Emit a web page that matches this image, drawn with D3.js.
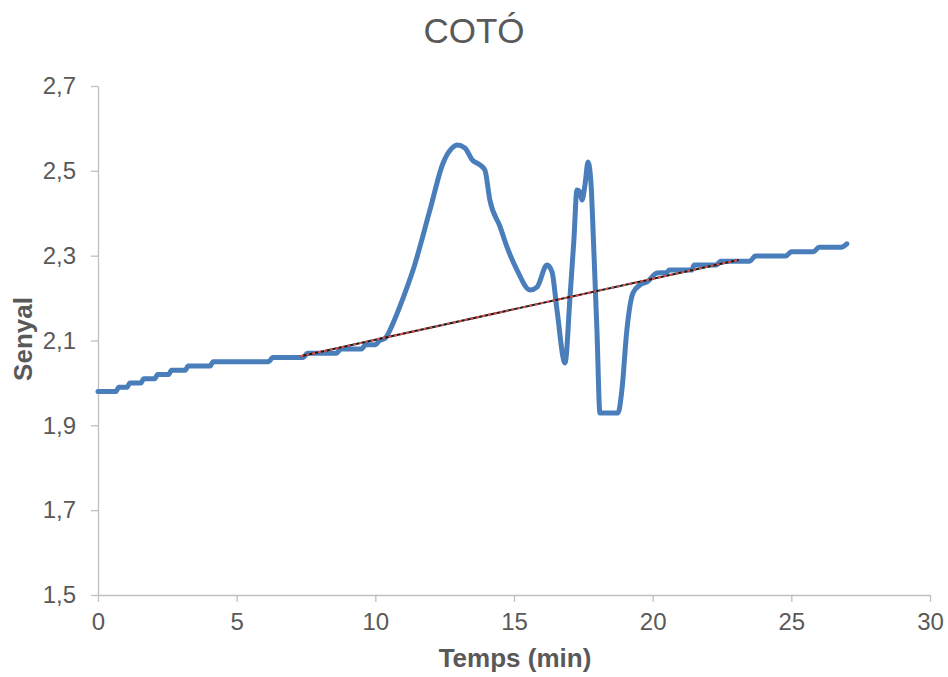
<!DOCTYPE html>
<html>
<head>
<meta charset="utf-8">
<script src="https://cdn.jsdelivr.net/npm/d3@7.9.0/dist/d3.min.js"></script>
<style>
  body { margin: 0; background: #fff; }
  svg { font-family: "Liberation Sans", Arial, sans-serif; }
  .axis path, .axis line { stroke: #bfbfbf; stroke-width: 1.3; }
  .axis text { fill: #595959; font-size: 24px; }
</style>
</head>
<body>
<svg width="948" height="677"></svg>
<script>
// time in minutes and measured signal
const timeMin = [0, 0.65, 0.75, 1.05, 1.15, 1.55, 1.65, 2.05, 2.15, 2.55, 2.65, 3.15, 3.25, 4.05, 4.15,
  6.15, 6.3, 7.4, 7.55, 8.6, 8.75, 9.5, 9.65, 10.0, 10.15, 10.35, 10.64, 11.0, 11.36, 11.97, 12.44,
  12.8, 12.94, 13.23, 13.49, 13.77, 13.95, 14.13, 14.5, 14.75, 15.11, 15.58, 15.83, 16.19, 16.37,
  16.55, 16.84, 17.02, 17.16, 17.27, 17.38, 17.45, 17.56, 17.67, 17.78, 17.85, 17.99, 18.1, 18.75,
  18.89, 19.07, 19.29, 19.54, 19.8, 20.16, 20.5, 20.6, 21.4, 21.5, 22.3, 22.45, 23.5, 23.7, 24.8,
  25.0, 25.8, 26.0, 26.8, 27.0];
const signal = [1.98, 1.98, 1.99, 1.99, 2.00, 2.00, 2.01, 2.01, 2.02, 2.02, 2.03, 2.03, 2.04, 2.04, 2.05,
  2.05, 2.06, 2.06, 2.07, 2.07, 2.08, 2.08, 2.09, 2.09, 2.10, 2.105, 2.141, 2.20, 2.266, 2.408, 2.518,
  2.556, 2.561, 2.554, 2.526, 2.514, 2.502, 2.431, 2.368, 2.32, 2.266, 2.219, 2.226, 2.278, 2.262,
  2.172, 2.047, 2.203, 2.337, 2.455, 2.45, 2.431, 2.467, 2.521, 2.467, 2.361, 2.125, 1.929, 1.929,
  1.983, 2.125, 2.212, 2.231, 2.238, 2.259, 2.26, 2.266, 2.266, 2.278, 2.278, 2.287, 2.287, 2.299, 2.299,
  2.309, 2.309, 2.32, 2.32, 2.328];

// baseline (linear fit) drawn under the peaks
const baseTime = [7.3, 23.1];
const baseSignal = [2.063, 2.29];

const xTicks = [0, 5, 10, 15, 20, 25, 30];
const yTicks = [1.5, 1.7, 1.9, 2.1, 2.3, 2.5, 2.7];

const svg = d3.select('svg');
const mLeft = 98, mRight = 930, mTop = 86, mBottom = 595;

const x = d3.scaleLinear().domain([0, 30]).range([mLeft, mRight]);
const y = d3.scaleLinear().domain([1.5, 2.7]).range([mBottom, mTop]);

const comma = d => d3.format('.1f')(d).replace('.', ',');

svg.append('g')
  .attr('class', 'axis')
  .attr('transform', `translate(0,${mBottom})`)
  .call(d3.axisBottom(x).tickValues(xTicks).tickSize(7).tickPadding(11).tickSizeOuter(0));

svg.append('g')
  .attr('class', 'axis')
  .attr('transform', `translate(${mLeft},0)`)
  .call(d3.axisLeft(y).tickValues(yTicks).tickFormat(comma).tickSize(7).tickPadding(15).tickSizeOuter(0));

svg.selectAll('.axis .domain').attr('stroke', '#bfbfbf');

// signal line
const points = timeMin.map((t, i) => [t, signal[i]]);
const line = d3.line().x(d => x(d[0])).y(d => y(d[1])).curve(d3.curveMonotoneX);

svg.append('path')
  .datum(points)
  .attr('d', line)
  .attr('fill', 'none')
  .attr('stroke', '#4a7ebb')
  .attr('stroke-width', 5)
  .attr('stroke-linejoin', 'round')
  .attr('stroke-linecap', 'round');

// baseline: black with red dashes
const basePts = baseTime.map((t, i) => [t, baseSignal[i]]);
const baseLine = d3.line().x(d => x(d[0])).y(d => y(d[1]));
svg.append('path')
  .datum(basePts)
  .attr('d', baseLine)
  .attr('fill', 'none')
  .attr('stroke', '#1a1a1a')
  .attr('stroke-width', 2);
svg.append('path')
  .datum(basePts)
  .attr('d', baseLine)
  .attr('fill', 'none')
  .attr('stroke', '#d9534f')
  .attr('stroke-width', 2)
  .attr('stroke-dasharray', '3,3');

// titles
svg.append('text')
  .attr('x', 474).attr('y', 43)
  .attr('text-anchor', 'middle')
  .attr('fill', '#595959')
  .style('font-size', '35px')
  .text('COTÓ');

svg.append('text')
  .attr('x', 515).attr('y', 667)
  .attr('text-anchor', 'middle')
  .attr('fill', '#595959')
  .style('font-size', '26px')
  .style('font-weight', 'bold')
  .text('Temps (min)');

svg.append('text')
  .attr('transform', 'translate(32,339) rotate(-90)')
  .attr('text-anchor', 'middle')
  .attr('fill', '#595959')
  .style('font-size', '26px')
  .style('font-weight', 'bold')
  .text('Senyal');
</script>
</body>
</html>
